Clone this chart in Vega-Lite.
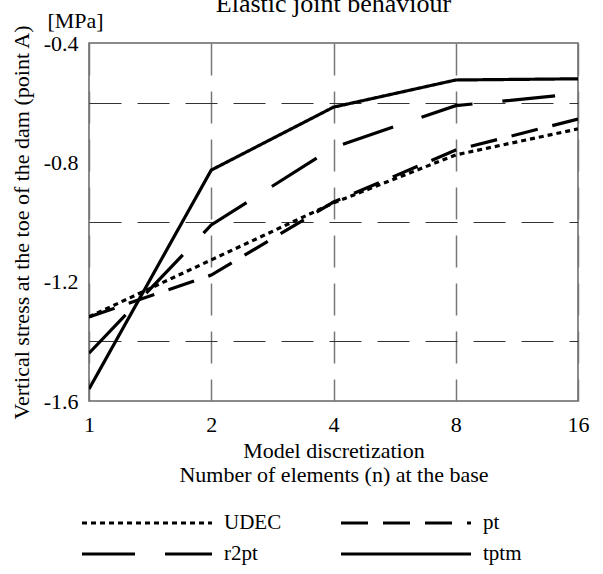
{
  "$schema": "https://vega.github.io/schema/vega-lite/v6.json",
  "width": 489,
  "height": 358,
  "autosize": {"type": "none"},
  "padding": {"left": 89, "top": 43, "right": 25, "bottom": 173},
  "background": "white",
  "title": {"text": "Elastic joint behaviour", "fontSize": 26, "font": "Liberation Serif", "fontWeight": "normal", "anchor": "middle", "frame": "group", "baseline": "alphabetic", "offset": -11, "dy": 18, "color": "black"},
  "data": {"values": [
    {"n": 1, "v": -1.318, "s": "UDEC"},
    {"n": 2, "v": -1.127, "s": "UDEC"},
    {"n": 4, "v": -0.936, "s": "UDEC"},
    {"n": 8, "v": -0.775, "s": "UDEC"},
    {"n": 16, "v": -0.688, "s": "UDEC"},
    {"n": 1, "v": -1.318, "s": "pt"},
    {"n": 2, "v": -1.178, "s": "pt"},
    {"n": 4, "v": -0.933, "s": "pt"},
    {"n": 8, "v": -0.759, "s": "pt"},
    {"n": 16, "v": -0.655, "s": "pt"},
    {"n": 1, "v": -1.44, "s": "r2pt"},
    {"n": 2, "v": -1.01, "s": "r2pt"},
    {"n": 4, "v": -0.75, "s": "r2pt"},
    {"n": 8, "v": -0.61, "s": "r2pt"},
    {"n": 16, "v": -0.57, "s": "r2pt"},
    {"n": 1, "v": -1.56, "s": "tptm"},
    {"n": 2, "v": -0.826, "s": "tptm"},
    {"n": 4, "v": -0.615, "s": "tptm"},
    {"n": 8, "v": -0.524, "s": "tptm"},
    {"n": 16, "v": -0.52, "s": "tptm"}
  ]},
  "layer": [
    {
      "mark": {"type": "line", "color": "black", "strokeWidth": 3.2, "clip": true},
      "encoding": {
        "x": {"field": "n", "type": "quantitative", "scale": {"type": "log", "base": 2, "domain": [1, 16], "nice": false},
          "axis": {"values": [1, 2, 4, 8, 16], "format": "d", "title": ["Model discretization", "Number of elements (n) at the base"], "titleLineHeight": 24, "titlePadding": 5, "labelPadding": 13, "grid": true, "gridDash": [32, 16], "gridColor": "#777", "gridWidth": 1.5, "ticks": false, "domain": false, "labelFlush": false}},
        "y": {"field": "v", "type": "quantitative", "scale": {"domain": [-1.6, -0.4], "nice": false, "zero": false},
          "axis": {"values": [-1.6, -1.2, -0.8, -0.4], "labelExpr": "datum.value < 0 ? '-' + format(-datum.value, '.1f') : format(datum.value, '.1f')", "title": "Vertical stress at the toe of the dam (point A)", "titlePadding": 10, "labelPadding": 11, "grid": false, "ticks": false, "domain": false, "labelFlush": false}},
        "strokeDash": {"field": "s", "type": "nominal",
          "scale": {"domain": ["UDEC", "pt", "r2pt", "tptm"], "range": [[5, 4], [27, 15], [53, 30], [1, 0]]},
          "legend": {"orient": "none", "legendX": -9, "legendY": 465, "columns": 2, "direction": "horizontal", "title": null, "symbolType": "M-1,0H9", "symbolSize": 676, "symbolStrokeWidth": 3.2, "symbolStrokeColor": "black", "symbolFillColor": "transparent", "labelFontSize": 21, "labelFont": "Liberation Serif", "labelColor": "black", "labelOffset": 114, "columnPadding": 52, "rowPadding": 6}}
      }
    },
    {
      "mark": {"type": "rule", "opacity": 0},
      "encoding": {
        "y": {"datum": -0.6, "type": "quantitative", "axis": {"orient": "left", "values": [-1.4, -1.0, -0.6], "title": "[MPa]", "titleAngle": 0, "titleX": -14, "titleY": -23, "titleAlign": "center", "titleBaseline": "middle", "labels": false, "ticks": false, "domain": false, "grid": true, "gridDash": [32, 16], "gridColor": "#333", "gridWidth": 1}}
      }
    }
  ],
  "resolve": {"axis": {"y": "independent"}},
  "config": {
    "font": "Liberation Serif",
    "view": {"stroke": "#666", "strokeWidth": 1.5},
    "axis": {"labelFont": "Liberation Serif", "titleFont": "Liberation Serif", "labelFontSize": 22, "titleFontSize": 22, "titleFontWeight": "normal", "labelColor": "black", "titleColor": "black"}
  }
}
